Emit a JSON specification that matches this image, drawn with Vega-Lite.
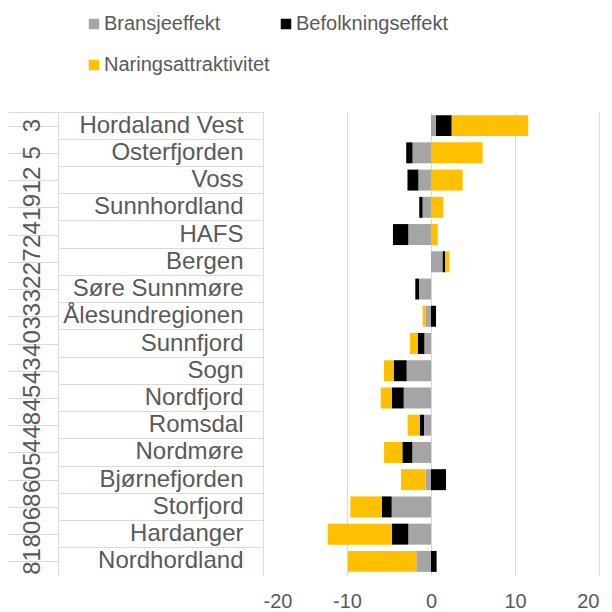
{
  "$schema": "https://vega.github.io/schema/vega-lite/v6.json",
  "background": "white",
  "padding": {"left": 8, "top": 14, "right": 2, "bottom": 0},
  "config": {
    "font": "Liberation Sans",
    "view": {"stroke": null},
    "concat": {"spacing": 0},
    "axis": {"labelColor": "#595959", "domainColor": "#d9d9d9", "gridColor": "#d9d9d9", "tickColor": "#d9d9d9"}
  },
  "data": {
    "values": [
      {"region": "Hordaland Vest", "rank": 3, "effect": "Bransjeeffekt", "n": 1, "value": 0.6},
      {"region": "Hordaland Vest", "rank": 3, "effect": "Befolkningseffekt", "n": 2, "value": 1.87},
      {"region": "Hordaland Vest", "rank": 3, "effect": "Naringsattraktivitet", "n": 3, "value": 9.1},
      {"region": "Osterfjorden", "rank": 5, "effect": "Bransjeeffekt", "n": 1, "value": -2.2},
      {"region": "Osterfjorden", "rank": 5, "effect": "Befolkningseffekt", "n": 2, "value": -0.75},
      {"region": "Osterfjorden", "rank": 5, "effect": "Naringsattraktivitet", "n": 3, "value": 6.15},
      {"region": "Voss", "rank": 12, "effect": "Bransjeeffekt", "n": 1, "value": -1.5},
      {"region": "Voss", "rank": 12, "effect": "Befolkningseffekt", "n": 2, "value": -1.3},
      {"region": "Voss", "rank": 12, "effect": "Naringsattraktivitet", "n": 3, "value": 3.77},
      {"region": "Sunnhordland", "rank": 19, "effect": "Bransjeeffekt", "n": 1, "value": -1.0},
      {"region": "Sunnhordland", "rank": 19, "effect": "Befolkningseffekt", "n": 2, "value": -0.4},
      {"region": "Sunnhordland", "rank": 19, "effect": "Naringsattraktivitet", "n": 3, "value": 1.47},
      {"region": "HAFS", "rank": 24, "effect": "Bransjeeffekt", "n": 1, "value": -2.7},
      {"region": "HAFS", "rank": 24, "effect": "Befolkningseffekt", "n": 2, "value": -1.83},
      {"region": "HAFS", "rank": 24, "effect": "Naringsattraktivitet", "n": 3, "value": 0.8},
      {"region": "Bergen", "rank": 27, "effect": "Bransjeeffekt", "n": 1, "value": 1.39},
      {"region": "Bergen", "rank": 27, "effect": "Befolkningseffekt", "n": 2, "value": 0.28},
      {"region": "Bergen", "rank": 27, "effect": "Naringsattraktivitet", "n": 3, "value": 0.52},
      {"region": "Søre Sunnmøre", "rank": 32, "effect": "Bransjeeffekt", "n": 1, "value": -1.43},
      {"region": "Søre Sunnmøre", "rank": 32, "effect": "Befolkningseffekt", "n": 2, "value": -0.44},
      {"region": "Søre Sunnmøre", "rank": 32, "effect": "Naringsattraktivitet", "n": 3, "value": 0},
      {"region": "Ålesundregionen", "rank": 33, "effect": "Bransjeeffekt", "n": 1, "value": -0.67},
      {"region": "Ålesundregionen", "rank": 33, "effect": "Befolkningseffekt", "n": 2, "value": 0.6},
      {"region": "Ålesundregionen", "rank": 33, "effect": "Naringsattraktivitet", "n": 3, "value": -0.32},
      {"region": "Sunnfjord", "rank": 40, "effect": "Bransjeeffekt", "n": 1, "value": -0.79},
      {"region": "Sunnfjord", "rank": 40, "effect": "Befolkningseffekt", "n": 2, "value": -0.79},
      {"region": "Sunnfjord", "rank": 40, "effect": "Naringsattraktivitet", "n": 3, "value": -0.91},
      {"region": "Sogn", "rank": 43, "effect": "Bransjeeffekt", "n": 1, "value": -2.9},
      {"region": "Sogn", "rank": 43, "effect": "Befolkningseffekt", "n": 2, "value": -1.55},
      {"region": "Sogn", "rank": 43, "effect": "Naringsattraktivitet", "n": 3, "value": -1.15},
      {"region": "Nordfjord", "rank": 45, "effect": "Bransjeeffekt", "n": 1, "value": -3.25},
      {"region": "Nordfjord", "rank": 45, "effect": "Befolkningseffekt", "n": 2, "value": -1.43},
      {"region": "Nordfjord", "rank": 45, "effect": "Naringsattraktivitet", "n": 3, "value": -1.31},
      {"region": "Romsdal", "rank": 48, "effect": "Bransjeeffekt", "n": 1, "value": -0.83},
      {"region": "Romsdal", "rank": 48, "effect": "Befolkningseffekt", "n": 2, "value": -0.52},
      {"region": "Romsdal", "rank": 48, "effect": "Naringsattraktivitet", "n": 3, "value": -1.43},
      {"region": "Nordmøre", "rank": 54, "effect": "Bransjeeffekt", "n": 1, "value": -2.22},
      {"region": "Nordmøre", "rank": 54, "effect": "Befolkningseffekt", "n": 2, "value": -1.19},
      {"region": "Nordmøre", "rank": 54, "effect": "Naringsattraktivitet", "n": 3, "value": -2.18},
      {"region": "Bjørnefjorden", "rank": 60, "effect": "Bransjeeffekt", "n": 1, "value": -0.63},
      {"region": "Bjørnefjorden", "rank": 60, "effect": "Befolkningseffekt", "n": 2, "value": 1.79},
      {"region": "Bjørnefjorden", "rank": 60, "effect": "Naringsattraktivitet", "n": 3, "value": -2.94},
      {"region": "Storfjord", "rank": 68, "effect": "Bransjeeffekt", "n": 1, "value": -4.68},
      {"region": "Storfjord", "rank": 68, "effect": "Befolkningseffekt", "n": 2, "value": -1.19},
      {"region": "Storfjord", "rank": 68, "effect": "Naringsattraktivitet", "n": 3, "value": -3.73},
      {"region": "Hardanger", "rank": 80, "effect": "Bransjeeffekt", "n": 1, "value": -2.7},
      {"region": "Hardanger", "rank": 80, "effect": "Befolkningseffekt", "n": 2, "value": -1.94},
      {"region": "Hardanger", "rank": 80, "effect": "Naringsattraktivitet", "n": 3, "value": -7.66},
      {"region": "Nordhordland", "rank": 81, "effect": "Bransjeeffekt", "n": 1, "value": -1.75},
      {"region": "Nordhordland", "rank": 81, "effect": "Befolkningseffekt", "n": 2, "value": 0.67},
      {"region": "Nordhordland", "rank": 81, "effect": "Naringsattraktivitet", "n": 3, "value": -8.13}
    ]
  },
  "hconcat": [
    {
      "width": 50,
      "height": 463,
      "transform": [{"filter": "datum.n == 1"}],
      "mark": {"type": "text", "angle": 270, "fontSize": 24, "color": "#595959", "baseline": "middle"},
      "encoding": {
        "y": {
          "field": "region", "type": "nominal", "sort": null,
          "scale": {"paddingInner": 0, "paddingOuter": 0},
          "axis": {"orient": "right", "title": null, "labels": false, "ticks": false, "domain": true, "grid": true, "bandPosition": 0, "tickExtra": true}
        },
        "text": {"field": "rank", "type": "nominal"}
      }
    },
    {
      "width": 336,
      "height": 463,
      "mark": {"type": "bar", "height": {"band": 0.77}},
      "encoding": {
        "y": {
          "field": "region", "type": "nominal", "sort": null,
          "scale": {"paddingInner": 0, "paddingOuter": 0},
          "axis": {"title": null, "bandPosition": 0, "tickExtra": true, "tickSize": 204, "labelPadding": -184, "labelFontSize": 24, "labelLimit": 250, "grid": false}
        },
        "x": {
          "field": "value", "type": "quantitative", "stack": "zero",
          "scale": {"domain": [-20, 20], "nice": false},
          "axis": {"title": null, "values": [-20, -10, 0, 10, 20], "grid": true, "domain": false, "ticks": false, "labelFontSize": 20, "labelPadding": 16, "labelExpr": "'' + datum.value"}
        },
        "color": {
          "field": "effect", "type": "nominal",
          "scale": {"domain": ["Bransjeeffekt", "Befolkningseffekt", "Naringsattraktivitet"], "range": ["#a5a5a5", "#000000", "#ffc000"]},
          "legend": {"orient": "none", "direction": "horizontal", "legendX": 76, "legendY": -98, "title": null, "columns": 2, "symbolType": "square", "symbolSize": 110, "symbolStrokeWidth": 0, "labelFontSize": 20, "labelColor": "#595959", "labelOffset": 0, "labelLimit": 300, "rowPadding": 21, "columnPadding": 6, "padding": 0}
        },
        "order": {"field": "n", "type": "quantitative"}
      }
    }
  ]
}
